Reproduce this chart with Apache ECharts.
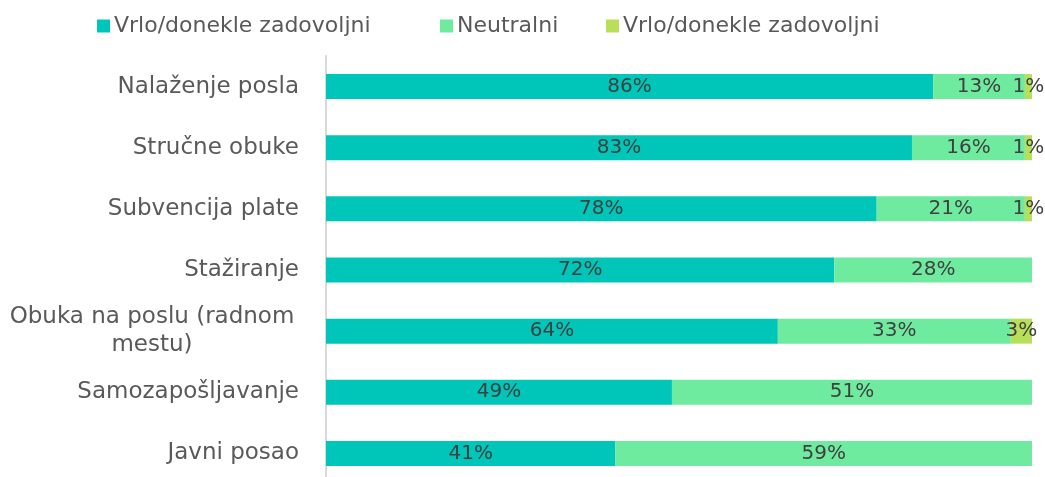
<!DOCTYPE html>
<html><head><meta charset="utf-8">
<script src="https://cdn.jsdelivr.net/npm/echarts@6/dist/echarts.min.js"></script>
<style>html,body{margin:0;padding:0;background:#fff}#c{width:1045px;height:477px}</style>
</head><body><div id="c"></div>
<script>
const categories = ['Nalaženje posla','Stručne obuke','Subvencija plate','Stažiranje','Obuka na poslu (radnom mestu)','Samozapošljavanje','Javni posao'];
const satisfied = [86,83,78,72,64,49,41];
const neutral = [13,16,21,28,33,51,59];
const dissatisfied = [1,1,1,0,3,0,0];
const seriesNames = ['Vrlo/donekle zadovoljni','Neutralni','Vrlo/donekle zadovoljni'];
const colors = ['#00C5B9','#6FEBA0','#B8DF5A'];
const FONT = '"DejaVu Sans", sans-serif';
const chart = echarts.init(document.getElementById('c'));
function lbl(pos){return {show:true,position:pos,color:'#404040',fontSize:20,fontFamily:FONT,
  formatter:p=>p.value>0?p.value+'%':''};}
const legendLefts = [97,440,606];
chart.setOption({
  animation:false,
  legend:legendLefts.map((l,i)=>({top:15,left:l,padding:0,itemWidth:13,itemHeight:13,itemGap:0,icon:'rect',
    textStyle:{color:'#595959',fontSize:22,fontFamily:FONT,padding:[0,0,0,-1]},
    data:['s'+i],formatter:n=>seriesNames[+n.slice(1)]})),
  grid:{left:326,right:13,top:56,height:428,containLabel:false,outerBoundsMode:'none'},
  xAxis:{type:'value',min:0,max:100,show:false},
  yAxis:{type:'category',inverse:true,data:categories,
    axisLine:{show:true,lineStyle:{color:'#D9D9D9',width:2}},axisTick:{show:false},
    axisLabel:{color:'#595959',fontSize:23,fontFamily:FONT,margin:27,
      formatter:v=>v==='Obuka na poslu (radnom mestu)'?'{c|Obuka na poslu (radnom}\n{c|mestu)}':v,
      rich:{c:{width:294,align:'center',color:'#595959',fontSize:23,fontFamily:FONT,lineHeight:28}}}},
  series:[
    {name:'s0',type:'bar',stack:'t',data:satisfied,barWidth:25,itemStyle:{color:colors[0]},label:lbl('inside')},
    {name:'s1',type:'bar',stack:'t',data:neutral,barWidth:25,itemStyle:{color:colors[1]},label:lbl('inside')},
    {name:'s2',type:'bar',stack:'t',data:dissatisfied,barWidth:25,itemStyle:{color:colors[2]},label:lbl('inside')}
  ]
});
</script></body></html>
